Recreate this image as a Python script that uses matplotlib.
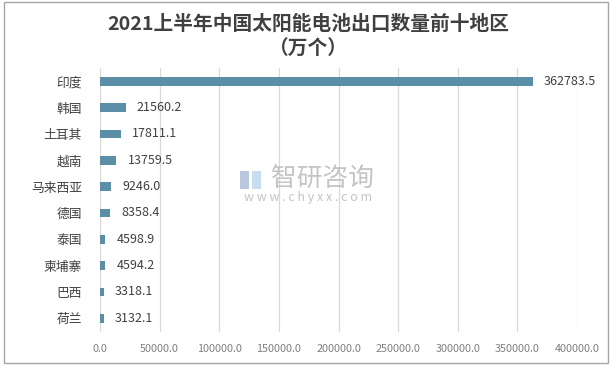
import matplotlib
matplotlib.use("Agg")
import matplotlib.pyplot as plt
from matplotlib.patches import Rectangle

plt.rcParams['font.family'] = ['Noto Sans CJK SC', 'DejaVu Sans']

categories = ["印度", "韩国", "土耳其", "越南", "马来西亚", "德国", "泰国", "柬埔寨", "巴西", "荷兰"]
values = [362783.5, 21560.2, 17811.1, 13759.5, 9246.0, 8358.4, 4598.9, 4594.2, 3318.1, 3132.1]
xticks = [0, 50000, 100000, 150000, 200000, 250000, 300000, 350000, 400000]

W, H = 616, 371
fig = plt.figure(figsize=(W / 100, H / 100), dpi=100)
ax = fig.add_axes([100 / W, 1 - 331.5 / H, 477 / W, (331.5 - 68) / H])

ypos = list(range(len(categories)))
ax.barh(ypos, values, height=0.33, color="#5B8FA8", zorder=3)
ax.set_ylim(len(categories) - 0.5, -0.5)
ax.set_xlim(0, 400000)
ax.set_yticks(ypos)
ax.set_yticklabels(categories, fontsize=9.2, color="#404040")
ax.set_xticks(xticks)
ax.set_xticklabels([f"{t:.1f}" for t in xticks], fontsize=7.8, color="#7f7f7f")
ax.tick_params(axis="both", length=0)
ax.tick_params(axis="y", pad=13)
ax.tick_params(axis="x", pad=9)
ax.grid(axis="x", color="#d9d9d9", linewidth=0.9, zorder=0)
for s in ax.spines.values():
    s.set_visible(False)

for y, v in zip(ypos, values):
    ax.annotate(f"{v:.1f}", xy=(v, y), xytext=(8, 0), textcoords="offset points",
                va="center", ha="left", fontsize=9, color="#404040", zorder=4)

fig.text(308 / W, 1 - 24 / H, "2021上半年中国太阳能电池出口数量前十地区", ha="center", va="center",
         fontsize=14.2, fontweight="bold", color="#404040")
fig.text(308 / W, 1 - 49.5 / H, "（万个）", ha="center", va="center",
         fontsize=14.2, fontweight="bold", color="#404040")

# watermark
fig.patches.append(Rectangle((240 / W, 1 - 189 / H), 9 / W, 18 / H, transform=fig.transFigure,
                             facecolor="#a9b9d6", edgecolor="none", alpha=0.8, zorder=5))
fig.patches.append(Rectangle((252 / W, 1 - 189 / H), 9 / W, 18 / H, transform=fig.transFigure,
                             facecolor="#b8d8ec", edgecolor="none", alpha=0.8, zorder=5))
fig.text(322 / W, 1 - 179 / H, "智研咨询", ha="center", va="center", fontsize=18.5,
         color="#c4c4c4", zorder=5)
fig.text(308 / W, 1 - 198 / H, "w w w . c h y x x . c o m", ha="center", va="center", fontsize=9,
         color="#c4c4c4", zorder=5)

fig.patches.append(Rectangle((4 / W, 1 - 363 / H), 604 / W, 361 / H, transform=fig.transFigure,
                             fill=False, edgecolor="#a6a6a6", linewidth=1))

fig.savefig("out.png", dpi=100)
